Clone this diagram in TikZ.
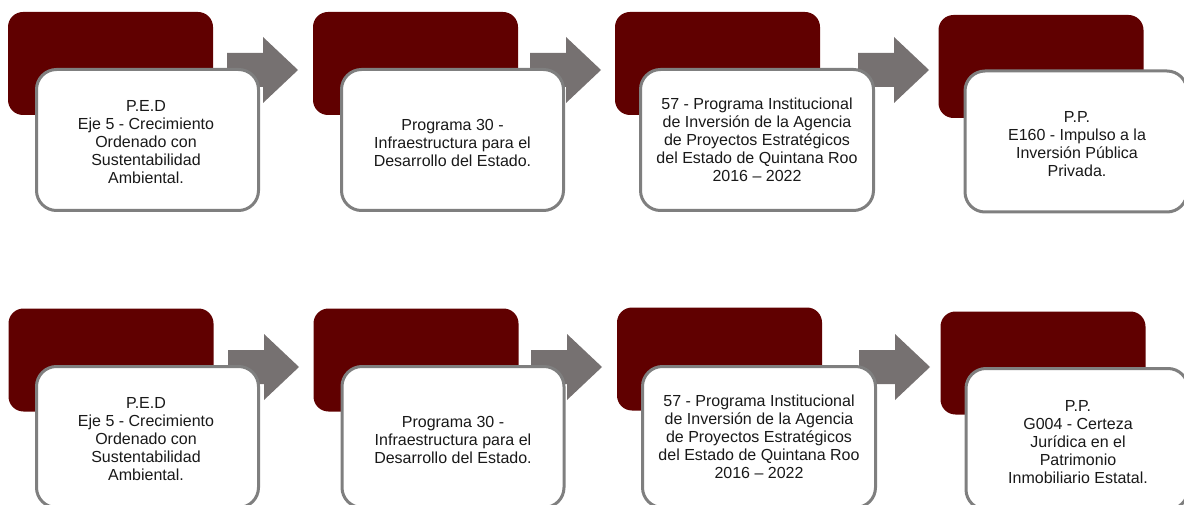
\documentclass[tikz,border=0pt]{standalone}
\usepackage{fontspec}
\setmainfont{Liberation Sans}
\definecolor{vino}{HTML}{600000}
\definecolor{grisflecha}{HTML}{767171}
\definecolor{grisborde}{HTML}{7F7F7F}
\newcommand{\flechabloque}[1]{%
  \fill[grisflecha] (#1) ++(0,-17) -- ++(36,0) -- ++(0,-16) -- ++(35,33)
    -- ++(-35,33) -- ++(0,-16) -- ++(-36,0) -- cycle;}

\begin{document}
\begin{tikzpicture}[x=1pt,y=-1pt,
    fondo/.style={rectangle, rounded corners=15pt, fill=vino,
        minimum width=205pt, minimum height=103pt, inner sep=0pt},
    caja/.style={rectangle, rounded corners=20pt, draw=grisborde, line width=3pt,
        fill=white, minimum width=222pt, minimum height=141pt, inner sep=0pt},
    texto/.style={align=center, text=black!90, font=\fontsize{16}{18}\selectfont}]
    \useasboundingbox (0,0) rectangle (1184,505);
    \clip (0,0) rectangle (1184,505);

    % fila de arriba
    \node (f1) at (110.5,63.5) [fondo] {};
    \node (f2) at (415.5,63.5) [fondo] {};
    \node (f3) at (717.5,63.5) [fondo] {};
    \node (f4) at (1041,66.5) [fondo] {};
    \coordinate (a1) at (227,70);
    \coordinate (a2) at (530,70);
    \coordinate (a3) at (858,70);
    \flechabloque{a1}
    \flechabloque{a2}
    \flechabloque{a3}
    \node (c1) at (147.5,140) [caja] {};
    \node (c2) at (452.5,140) [caja] {};
    \node (c3) at (757,140) [caja, minimum width=233pt] {};
    \node (c4) at (1076,141.5) [caja] {};
    \node (t1) at ([xshift=-1.5pt,yshift=-2pt]c1.center) [texto] {P.E.D\\Eje 5 - Crecimiento\\Ordenado con\\Sustentabilidad\\Ambiental.};
    \node (t2) at ([yshift=-3pt]c2.center) [texto] {Programa 30 -\\Infraestructura para el\\Desarrollo del Estado.};
    \node (t3) at (c3.center) [texto] {57 - Programa Institucional\\de Inversión de la Agencia\\de Proyectos Estratégicos\\del Estado de Quintana Roo\\2016 – 2022};
    \node (t4) at ([xshift=1pt,yshift=-3pt]c4.center) [texto] {P.P.\\E160 - Impulso a la\\Inversión Pública\\Privada.};

    % fila de abajo
    \node (f5) at (111,360) [fondo] {};
    \node (f6) at (416,360) [fondo] {};
    \node (f7) at (719.5,359) [fondo] {};
    \node (f8) at (1043,363) [fondo] {};
    \coordinate (a4) at (228,367);
    \coordinate (a5) at (531,367);
    \coordinate (a6) at (859,367);
    \flechabloque{a4}
    \flechabloque{a5}
    \flechabloque{a6}
    \node (c5) at (147.5,437) [caja] {};
    \node (c6) at (453,437) [caja] {};
    \node (c7) at (759,437) [caja, minimum width=233pt] {};
    \node (c8) at (1077,439) [caja] {};
    \node (t5) at ([xshift=-1.5pt,yshift=-2pt]c5.center) [texto] {P.E.D\\Eje 5 - Crecimiento\\Ordenado con\\Sustentabilidad\\Ambiental.};
    \node (t6) at ([yshift=-3pt]c6.center) [texto] {Programa 30 -\\Infraestructura para el\\Desarrollo del Estado.};
    \node (t7) at (c7.center) [texto] {57 - Programa Institucional\\de Inversión de la Agencia\\de Proyectos Estratégicos\\del Estado de Quintana Roo\\2016 – 2022};
    \node (t8) at ([xshift=1pt,yshift=-3pt]c8.center) [texto] {P.P.\\G004 - Certeza\\Jurídica en el\\Patrimonio\\Inmobiliario Estatal.};
\end{tikzpicture}
\end{document}
